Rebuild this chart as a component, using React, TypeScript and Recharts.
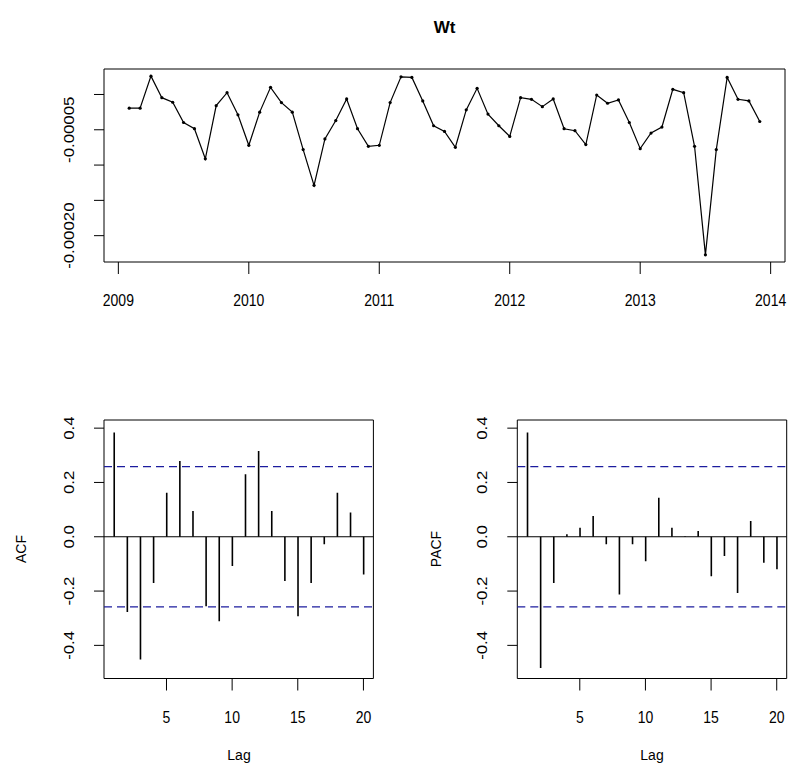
import React from "react";
import { Bar, BarChart, Line, LineChart, ReferenceArea, ReferenceLine, XAxis, YAxis } from "recharts";

const FONT = '"Liberation Sans", Arial, Helvetica, sans-serif';

// Wt, monthly series, values in units of 1e-5.
// 2009 starts in February, the rest run Jan..Dec.
const wt2009 = [-1.94, -1.94, 2.6, -0.45, -1.1, -3.97, -4.85, -9.11, -1.58, 0.25, -2.88];
const wt2010 = [-7.2, -2.5, 1.01, -1.15, -2.5, -7.81, -12.87, -6.3, -3.69, -0.63, -4.85, -7.34];
const wt2011 = [-7.2, -1.15, 2.5, 2.42, -0.91, -4.43, -5.23, -7.48, -2.18, 0.87, -2.78, -4.43];
const wt2012 = [-5.94, -0.45, -0.68, -1.72, -0.63, -4.85, -5.13, -7.1, -0.07, -1.24, -0.77, -3.97];
const wt2013 = [-7.67, -5.46, -4.61, 0.73, 0.25, -7.34, -22.72, -7.81, 2.42, -0.68, -0.91, -3.83];

const years = [2009, 2010, 2011, 2012, 2013];
const firstMonth = [2, 1, 1, 1, 1];
const yearValues = [wt2009, wt2010, wt2011, wt2012, wt2013];

const yearTicks = [2009, 2010, 2011, 2012, 2013, 2014];
const wtTicks = [-0.0002, -0.00015, -0.0001, -0.00005, 0];
// R drops the labels that would overlap, only these two survive
const wtTickLabels: Record<string, string> = { "-0.0002": "-0.00020", "-0.00005": "-0.00005" };

const lags = [1, 2, 3, 4, 5, 6, 7, 8, 9, 10, 11, 12, 13, 14, 15, 16, 17, 18, 19, 20];
const acfValues = [0.384, -0.277, -0.452, -0.17, 0.162, 0.279, 0.095, -0.256, -0.311, -0.108, 0.23, 0.316, 0.095, -0.163, -0.293, -0.17, -0.028, 0.162, 0.089, -0.139];
const pacfValues = [0.384, -0.483, -0.17, 0.009, 0.033, 0.076, -0.028, -0.213, -0.028, -0.09, 0.144, 0.033, 0.002, 0.021, -0.145, -0.071, -0.207, 0.058, -0.096, -0.12];
const ciBound = 0.258;

const lagTicks = [5, 10, 15, 20];
const corrTicks = [-0.4, -0.2, 0, 0.2, 0.4];

const wtData = years.flatMap((yr, i) =>
  yearValues[i].map((v, j) => ({ t: yr + (firstMonth[i] - 1 + j) / 12, wt: v * 1e-5 })),
);
const acfData = lags.map((lag, i) => ({ lag, value: acfValues[i] }));
const pacfData = lags.map((lag, i) => ({ lag, value: pacfValues[i] }));

const TOP_X: [number, number] = [2008.89, 2014.11];
const TOP_Y: [number, number] = [-0.0002373, 0.0000361];
const LAG_X: [number, number] = [0.24, 20.76];
const CORR_Y: [number, number] = [-0.522, 0.43];

// the source image is a bit taller than it is wide, so glyphs look stretched
const STRETCH = 1.2;
const tickStyle = { stroke: "#000", strokeWidth: 1 };

function XTick({ x, y, payload }: any) {
  return (
    <text transform={`translate(${x},${y + 30}) scale(1,${STRETCH})`} textAnchor="middle" fontSize={14} fontFamily={FONT} fill="#000">
      {payload.value}
    </text>
  );
}

function YTick({ x, y, payload, labels }: any) {
  const text = labels ? labels[String(payload.value)] : payload.value.toFixed(1);
  if (!text) return null;
  return (
    <text
      transform={`translate(${x - 18},${y}) rotate(-90) scale(${STRETCH},1)`}
      textAnchor="middle"
      fontSize={14}
      fontFamily={FONT}
      fill="#000"
    >
      {text}
    </text>
  );
}

function Frame({ x, y }: { x: [number, number]; y: [number, number] }) {
  return <ReferenceArea x1={x[0]} x2={x[1]} y1={y[0]} y2={y[1]} fill="none" stroke="#000" strokeWidth={1} ifOverflow="visible" />;
}

function CorrPanel({ data, left }: { data: { lag: number; value: number }[]; left: number }) {
  return (
    <BarChart width={395} height={435} data={data} margin={{ top: 80, right: 395 - left - 269.4, bottom: 46.5, left: left - 60 }}>
      <XAxis type="number" dataKey="lag" domain={LAG_X} ticks={lagTicks} allowDataOverflow axisLine={false} tickLine={tickStyle} tickSize={12} height={50} interval={0} tick={<XTick />} />
      <YAxis type="number" domain={CORR_Y} ticks={corrTicks} allowDataOverflow axisLine={false} tickLine={tickStyle} tickSize={10} width={60} interval={0} tick={<YTick />} />
      <Frame x={LAG_X} y={CORR_Y} />
      <ReferenceLine y={0} stroke="#000" strokeWidth={1} />
      <ReferenceLine y={ciBound} stroke="#1c1c9e" strokeWidth={1.3} strokeDasharray="8 5" />
      <ReferenceLine y={-ciBound} stroke="#1c1c9e" strokeWidth={1.3} strokeDasharray="8 5" />
      <Bar dataKey="value" fill="#000" barSize={1.6} isAnimationActive={false} />
    </BarChart>
  );
}

const labelStyle: React.CSSProperties = {
  position: "absolute",
  fontFamily: FONT,
  fontSize: 14,
  color: "#000",
  whiteSpace: "nowrap",
  lineHeight: 1,
};

export default function App() {
  return (
    <div style={{ position: "absolute", left: 0, top: 0, width: 790, height: 775, background: "#fff" }}>
      <div style={{ ...labelStyle, left: 444.5, top: 27, fontSize: 17, fontWeight: "bold", transform: "translate(-50%,-50%)" }}>Wt</div>

      <div style={{ position: "absolute", left: 0, top: 0 }}>
        <LineChart width={790} height={340} data={wtData} margin={{ top: 69, right: 5, bottom: 28, left: 44 }}>
          <XAxis type="number" dataKey="t" domain={TOP_X} ticks={yearTicks} allowDataOverflow axisLine={false} tickLine={tickStyle} tickSize={12} height={50} interval={0} tick={<XTick />} />
          <YAxis type="number" domain={TOP_Y} ticks={wtTicks} allowDataOverflow axisLine={false} tickLine={tickStyle} tickSize={10} width={60} interval={0} tick={<YTick labels={wtTickLabels} />} />
          <Frame x={TOP_X} y={TOP_Y} />
          <Line
            type="linear"
            dataKey="wt"
            stroke="#000"
            strokeWidth={1.2}
            dot={{ r: 1.6, fill: "#000", stroke: "#000", strokeWidth: 0 }}
            isAnimationActive={false}
          />
        </LineChart>
      </div>

      <div style={{ position: "absolute", left: 0, top: 340 }}>
        <CorrPanel data={acfData} left={104} />
      </div>
      <div style={{ position: "absolute", left: 395, top: 340 }}>
        <CorrPanel data={pacfData} left={122.3} />
      </div>

      <div style={{ ...labelStyle, left: 21, top: 549, transform: "translate(-50%,-50%) rotate(-90deg)" }}>ACF</div>
      <div style={{ ...labelStyle, left: 436, top: 549, transform: "translate(-50%,-50%) rotate(-90deg)" }}>PACF</div>
      <div style={{ ...labelStyle, left: 239, top: 755, transform: "translate(-50%,-50%) scaleY(1.1)" }}>Lag</div>
      <div style={{ ...labelStyle, left: 652, top: 755, transform: "translate(-50%,-50%) scaleY(1.1)" }}>Lag</div>
    </div>
  );
}
